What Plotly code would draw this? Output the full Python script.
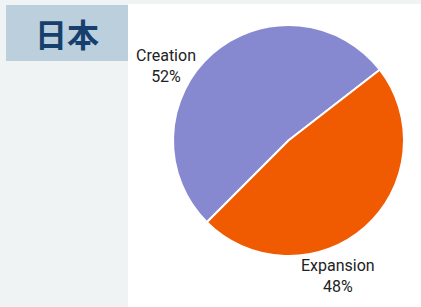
import plotly.graph_objects as go

W, H = 421, 307
categories = ["Creation", "Expansion"]
values = [52, 48]
colors = ["#8789d0", "#f05a00"]
title_text = "日本"

def px_x(x):
    return x / W

def px_y(y):
    return 1 - y / H

fig = go.Figure()
fig.add_trace(go.Pie(
    labels=categories, values=values, sort=False, direction="clockwise",
    rotation=225, textinfo="none", hoverinfo="label+percent",
    marker=dict(colors=colors, line=dict(color="white", width=2)),
    domain=dict(x=[px_x(173), px_x(404)], y=[px_y(256), px_y(25)]),
    showlegend=False,
))

label_pos = {"Creation": (166, 66), "Expansion": (338, 276)}
total = sum(values)
for c, v in zip(categories, values):
    x, y = label_pos[c]
    fig.add_annotation(
        x=px_x(x), y=px_y(y), xref="paper", yref="paper",
        text=f"{c}<br>{round(v / total * 100)}%", showarrow=False,
        font=dict(family="Roboto", size=16, color="#222222"),
        align="center", xanchor="center", yanchor="middle",
    )

fig.add_annotation(
    x=px_x(67), y=px_y(33), xref="paper", yref="paper", text=f"<b>{title_text}</b>",
    showarrow=False, font=dict(family="Noto Sans CJK JP", size=32, color="#173f6e"),
    xanchor="center", yanchor="middle",
)

fig.update_layout(
    width=W, height=H, margin=dict(l=0, r=0, t=0, b=0),
    paper_bgcolor="#eff3f4", plot_bgcolor="#eff3f4",
    shapes=[
        dict(type="rect", xref="paper", yref="paper", x0=px_x(128), x1=1, y0=0, y1=px_y(4),
             fillcolor="white", line=dict(width=0), layer="below"),
        dict(type="rect", xref="paper", yref="paper", x0=px_x(6), x1=px_x(128), y0=px_y(61), y1=px_y(5),
             fillcolor="#bccfdd", line=dict(width=0), layer="below"),
    ],
)
fig.write_html(
    "out.html",
    config={"displayModeBar": False},
    post_script="document.body.style.margin='0';document.body.style.overflow='hidden';",
)
